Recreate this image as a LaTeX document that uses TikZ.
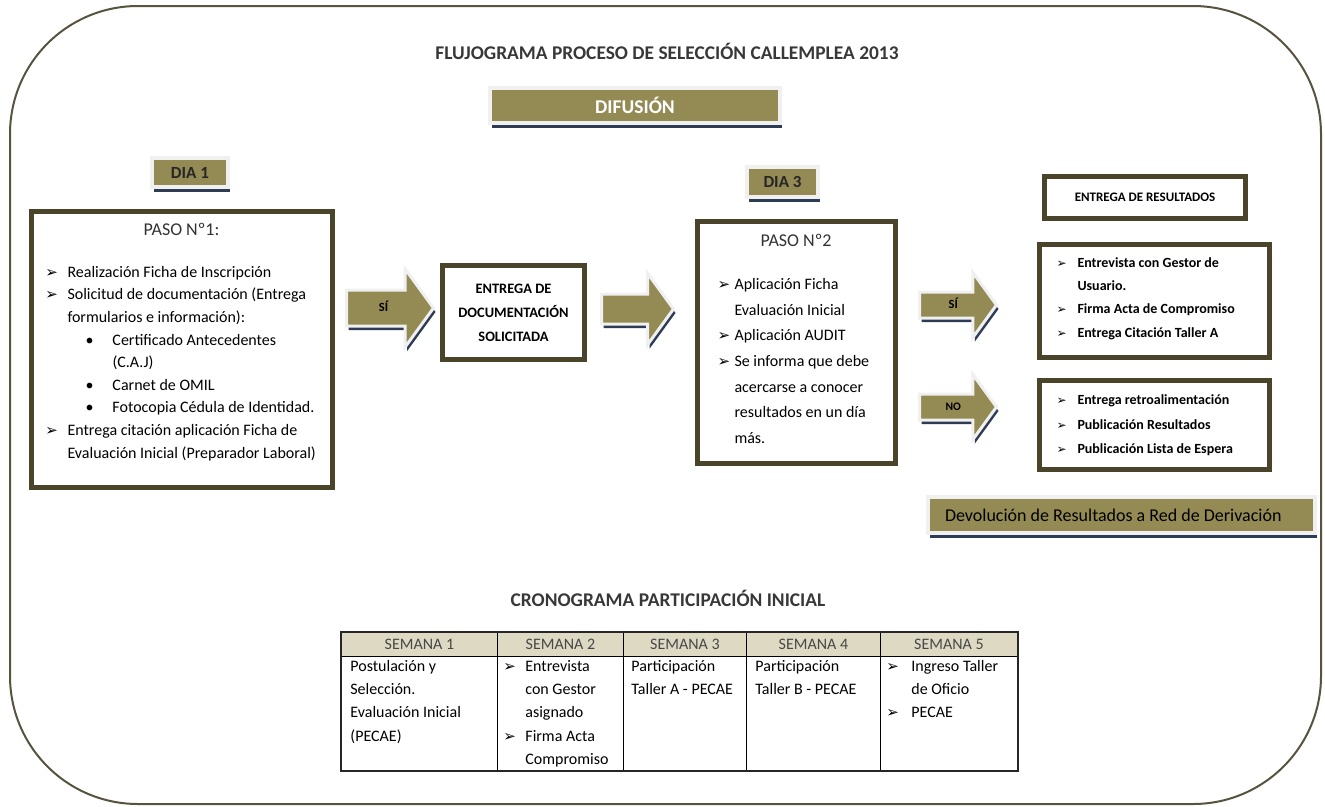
\documentclass[tikz,border=0pt]{standalone}
\usepackage{fontspec}
\setmainfont{Carlito}
\newfontfamily\symf{DejaVu Sans}
\usetikzlibrary{positioning,shapes.arrows,shadows}

\definecolor{olivo}{HTML}{948A54}
\definecolor{boxline}{HTML}{4A452A}
\definecolor{navysh}{HTML}{2E3B55}
\definecolor{frameline}{HTML}{57533F}
\definecolor{headfill}{HTML}{DDD9C3}

% list marks
\newcommand{\nat}{\spaceskip=0pt\xspaceskip=0pt\relax}
\newcommand{\flecha}[1]{{\symf\fontsize{#1}{#1}\selectfont ➢}}
\newcommand{\itm}[3][15]{\par\hangindent=#2\hangafter=1\noindent\hbox to #2{\flecha{#1}\hfil}\ignorespaces#3}
\newcommand{\punto}[1]{\par\hangindent=67pt\hangafter=1\noindent\hbox to 67pt{\hskip 40pt •\hfil}\ignorespaces#1}
\newcommand{\celda}[2]{\parbox[c][106pt][t]{#1}{\raggedright #2\par}}
% bottom padding inside a box
\newcommand{\fondo}[1]{\par\vskip#1\hrule height 0pt width 0pt}

\tikzset{
  daybox/.style={fill=olivo, draw=gray!12, line width=4pt, inner sep=0pt,
    drop shadow={shadow xshift=2pt, shadow yshift=-5pt, fill=navysh, opacity=1},
    font=\bfseries\fontsize{17}{19}\selectfont, text=black!85},
  pasobox/.style={draw=boxline, line width=5pt, fill=white, align=left, inner ysep=0pt},
  pasoarrow/.style={single arrow, fill=olivo, draw=gray!12, line width=3pt,
    single arrow tip angle=108, anchor=tail, text height=8pt, text depth=2pt,
    drop shadow={shadow xshift=2pt, shadow yshift=-4pt, fill=navysh, opacity=1},
    font=\bfseries\fontsize{12.5}{14}\selectfont},
  titulo/.style={font=\bfseries\fontsize{19.4}{22}\selectfont, text=black!78},
  headcell/.style={draw=black, line width=0.8pt, fill=headfill, minimum height=24pt,
    inner sep=0pt, font=\fontsize{16}{18}\selectfont, text=black!72},
  cell/.style={draw=black, line width=0.8pt, minimum height=114pt, inner ysep=4pt,
    font=\fontsize{16}{23.2}\selectfont}
}

\begin{document}
\begin{tikzpicture}[x=1pt, y=-1pt]
    \useasboundingbox (0,0) rectangle (1325,806);
    % Outer frame
    \draw[frameline, line width=2pt, rounded corners=128pt] (10,6) rectangle (1321,804);

    % Titles
    \node[titulo] (titulo) at (667,51) {FLUJOGRAMA PROCESO DE SELECCIÓN CALLEMPLEA 2013};
    \node[daybox, minimum width=290pt, minimum height=35pt, text=white,
      font=\bfseries\fontsize{19.5}{21}\selectfont] (difusion) at (635,105.5) {DIFUSIÓN};

    % Day 1
    \node[daybox, minimum width=76pt, minimum height=29pt] (dia1) at (190,172.5) {DIA 1};
    \node[pasobox, anchor=north west, minimum width=301pt, minimum height=276pt,
      text width=288pt, inner xsep=6.5pt, font=\fontsize{16}{22.6}\selectfont] (paso1) at (28.5,208.5) {\nat
      {\centering\fontsize{18}{20}\selectfont\color{black!80}PASO Nº1:\par}
      \vspace{19pt}\leftskip=8pt
      \itm{22pt}{Realización Ficha de Inscripción}
      \itm{22pt}{Solicitud de documentación (Entrega\newline formularios e información):}
      \punto{Certificado Antecedentes\newline (C.A.J)}
      \punto{Carnet de OMIL}
      \punto{Fotocopia Cédula de Identidad.}
      \itm{22pt}{Entrega citación aplicación Ficha de\newline Evaluación Inicial (Preparador Laboral)}\fondo{14pt}};

    % Documents
    \node[pasoarrow, minimum height=87pt, inner ysep=11.5pt, single arrow head extend=21pt] (sidoc) at (345,308) {SÍ};
    \node[pasobox, minimum width=142pt, minimum height=94pt, align=center,
      font=\bfseries\fontsize{14.4}{24}\selectfont] (entrega) at (513.5,312.5) {\nat ENTREGA DE\\DOCUMENTACIÓN\\SOLICITADA};
    \node[pasoarrow, minimum height=72pt, inner ysep=8.5pt, single arrow head extend=20.5pt] (docpaso) at (600,309) {};

    % Day 3
    \node[daybox, minimum width=71pt, minimum height=30pt] (dia3) at (782.5,182) {DIA 3};
    \node[pasobox, anchor=north west, minimum width=198pt, minimum height=242pt,
      text width=157pt, inner xsep=20.5pt, font=\fontsize{16}{25.7}\selectfont] (paso2) at (694.5,218.5) {\nat
      {\centering\fontsize{18}{20}\selectfont\color{black!80}PASO Nº2\par}
      \vspace{17pt}
      \itm{17pt}{Aplicación Ficha\newline Evaluación Inicial}
      \itm{17pt}{Aplicación AUDIT}
      \itm{17pt}{Se informa que debe\newline acercarse a conocer\newline resultados en un día\newline más.}\fondo{6pt}};

    % Results
    \node[pasoarrow, minimum height=77pt, inner ysep=6.5pt, single arrow head extend=19.5pt] (sires) at (918,305) {SÍ};
    \node[pasoarrow, minimum height=77pt, inner ysep=6.5pt, single arrow head extend=19.5pt,
      font=\bfseries\fontsize{11.5}{13}\selectfont] (nores) at (918,407) {NO};
    \node[pasobox, minimum width=201pt, minimum height=42pt,
      font=\bfseries\fontsize{13}{15}\selectfont] (resultados) at (1145,197.5) {\nat ENTREGA DE RESULTADOS};
    \node[pasobox, anchor=north west, minimum width=230pt, minimum height=113pt,
      text width=195pt, inner xsep=17.5pt, font=\bfseries\fontsize{14}{23.3}\selectfont] (sibox) at (1036.5,241.5) {\nat
      \itm[12]{21pt}{Entrevista con Gestor de\newline Usuario.}
      \itm[12]{21pt}{Firma Acta de Compromiso}
      \itm[12]{21pt}{Entrega Citación Taller A}\fondo{18pt}};
    \node[pasobox, anchor=north west, minimum width=230pt, minimum height=83pt,
      text width=195pt, inner xsep=17.5pt, font=\bfseries\fontsize{14}{24.5}\selectfont] (nobox) at (1036.5,377.5) {\nat
      \itm[12]{21pt}{Entrega retroalimentación}
      \itm[12]{21pt}{Publicación Resultados}
      \itm[12]{21pt}{Publicación Lista de Espera}\fondo{14pt}};
    \node[daybox, minimum width=387pt, minimum height=36pt, text=black, text width=353pt, align=left,
      font=\fontsize{18}{20}\selectfont] (devolucion) at (1121.5,515) {\nat Devolución de Resultados a Red de Derivación};

    % Schedule
    \node[titulo] (crono) at (668,598) {CRONOGRAMA PARTICIPACIÓN INICIAL};
    \foreach \x/\w/\n in {341/156/1, 497/126/2, 623/123/3, 746/134/4, 880/137/5}
        \node[headcell, minimum width=\w pt, anchor=north west] (sem\n) at (\x,632) {SEMANA \n};
    \node[cell, minimum width=156pt, inner xsep=9pt, anchor=north west] (c1) at (341,656)
      {\celda{138pt}{Postulación y\newline Selección.\newline Evaluación Inicial\newline (PECAE)}};
    \node[cell, minimum width=126pt, inner xsep=6pt, anchor=north west] (c2) at (497,656)
      {\celda{114pt}{\itm{22pt}{Entrevista\newline con Gestor\newline asignado}\itm{22pt}{Firma Acta\newline Compromiso}}};
    \node[cell, minimum width=123pt, inner xsep=8pt, anchor=north west] (c3) at (623,656)
      {\celda{107pt}{Participación\newline Taller A - PECAE}};
    \node[cell, minimum width=134pt, inner xsep=9pt, anchor=north west] (c4) at (746,656)
      {\celda{116pt}{Participación\newline Taller B - PECAE}};
    \node[cell, minimum width=137pt, inner xsep=6pt, anchor=north west] (c5) at (880,656)
      {\celda{125pt}{\itm{25pt}{Ingreso Taller\newline de Oficio}\itm{25pt}{PECAE}}};
    \draw[line width=1.4pt, black!85] (sem1.north west) rectangle (c5.south east);
\end{tikzpicture}
\end{document}
